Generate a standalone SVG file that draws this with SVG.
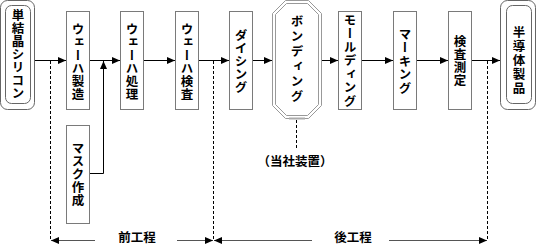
<svg xmlns="http://www.w3.org/2000/svg" width="537" height="245" viewBox="0 0 537 245">
<defs>
<style>
.box{fill:#fff;stroke:#7a7a7a;stroke-width:1}
.rr{fill:#fff;stroke:#666;stroke-width:1}
.oct{fill:none;stroke:#999;stroke-width:1}
.vt{font-family:"Noto Sans CJK JP","Noto Sans",sans-serif;font-size:12.5px;font-weight:bold;fill:#000;writing-mode:vertical-rl;text-anchor:middle}
.ht{font-family:"Noto Sans CJK JP","Noto Sans",sans-serif;font-size:12.5px;font-weight:bold;fill:#000;text-anchor:middle;dominant-baseline:central}
.ln{stroke:#000;stroke-width:1;fill:none}
.gl{stroke:#555;stroke-width:1.2;fill:none}
.dash{stroke:#000;stroke-width:1;fill:none;stroke-dasharray:3 2}
</style>
<marker id="ah" viewBox="0 0 8 8" refX="8" refY="4" markerWidth="8" markerHeight="8" markerUnits="userSpaceOnUse" orient="auto">
<path d="M0,0.5 L8,4 L0,7.5 Z" fill="#000"/>
</marker>
</defs>

<g id="n-silicon">
<rect class="rr" x="0.5" y="0.5" width="34" height="109" rx="7"/>
<rect class="rr" x="5.5" y="5.5" width="25" height="98" rx="6"/>
<text class="vt" x="18" y="15 28 41 54 67 80 93">単結晶シリコン</text>
</g>
<g id="n-wafer-make">
<rect class="box" x="66.5" y="11.5" width="23" height="98"/>
<text class="vt" x="78" y="29 42 55 68 81 94">ウェーハ製造</text>
</g>
<g id="n-wafer-proc">
<rect class="box" x="120.5" y="11.5" width="23" height="98"/>
<text class="vt" x="132" y="29 42 55 68 81 94">ウェーハ処理</text>
</g>
<g id="n-wafer-insp">
<rect class="box" x="175.5" y="11.5" width="23" height="98"/>
<text class="vt" x="187" y="29 42 55 68 81 94">ウェーハ検査</text>
</g>
<g id="n-dicing">
<rect class="box" x="229.5" y="11.5" width="23" height="98"/>
<text class="vt" x="241" y="35 48 61 74 87">ダイシング</text>
</g>
<g id="n-bonding">
<polygon class="oct" points="285.5,0.5 308.5,0.5 321.5,13.5 321.5,105.5 308.5,118.5 285.5,118.5 272.5,105.5 272.5,13.5"/>
<polygon class="oct" points="286.5,3.5 307.5,3.5 318.5,14.5 318.5,104.5 307.5,115.5 286.5,115.5 275.5,104.5 275.5,14.5"/>
<line x1="289" y1="118.5" x2="305" y2="118.5" stroke="#aaa" stroke-width="2"/>
<text class="vt" x="297" y="21 36 51 66 81 96">ボンディング</text>
</g>
<g id="n-molding">
<rect class="box" x="338.5" y="11.5" width="23" height="98"/>
<text class="vt" x="350" y="20 33.5 47 60.5 74 87.5 101">モールディング</text>
</g>
<g id="n-marking">
<rect class="box" x="393.5" y="11.5" width="23" height="98"/>
<text class="vt" x="405" y="34 47.5 61 74.5 88">マーキング</text>
</g>
<g id="n-test">
<rect class="box" x="448.5" y="11.5" width="23" height="98"/>
<text class="vt" x="460" y="41 54 67 80">検査測定</text>
</g>
<g id="n-product">
<rect class="rr" x="500.5" y="0.5" width="35" height="109" rx="7"/>
<rect class="rr" x="506.5" y="5.5" width="25" height="98" rx="6"/>
<text class="vt" x="519" y="32 46 60 74 88">半導体製品</text>
</g>
<g id="n-mask">
<rect class="box" x="66.5" y="125.5" width="23" height="98"/>
<text class="vt" x="78" y="148.5 161.5 174.5 187.5 200.5">マスク作成</text>
</g>
<g id="n-note">
<text class="ht" x="295" y="160" font-size="12">（当社装置）</text>
</g>

<g id="connectors">
<line class="ln" x1="35" y1="60.5" x2="66" y2="60.5" marker-end="url(#ah)"/>
<line class="ln" x1="90" y1="60.5" x2="120" y2="60.5" marker-end="url(#ah)"/>
<line class="ln" x1="144" y1="60.5" x2="175" y2="60.5" marker-end="url(#ah)"/>
<line class="ln" x1="199" y1="60.5" x2="229" y2="60.5" marker-end="url(#ah)"/>
<line class="ln" x1="253" y1="60.5" x2="272" y2="60.5" marker-end="url(#ah)"/>
<line class="ln" x1="322" y1="60.5" x2="338" y2="60.5" marker-end="url(#ah)"/>
<line class="ln" x1="362" y1="60.5" x2="393" y2="60.5" marker-end="url(#ah)"/>
<line class="ln" x1="417" y1="60.5" x2="448" y2="60.5" marker-end="url(#ah)"/>
<line class="ln" x1="472" y1="60.5" x2="500" y2="60.5" marker-end="url(#ah)"/>
<polyline class="ln" points="90,173.5 103.5,173.5 103.5,61" marker-end="url(#ah)"/>
<line class="dash" x1="50.5" y1="61" x2="50.5" y2="240"/>
<line class="dash" x1="213.5" y1="61" x2="213.5" y2="240"/>
<line class="dash" x1="487.5" y1="61" x2="487.5" y2="240"/>
<line class="dash" x1="296.5" y1="120" x2="296.5" y2="150"/>
<line class="gl" x1="95" y1="240.5" x2="51" y2="240.5" marker-end="url(#ah)"/>
<line class="gl" x1="177" y1="240.5" x2="213" y2="240.5" marker-end="url(#ah)"/>
<line class="gl" x1="312" y1="240.5" x2="214" y2="240.5" marker-end="url(#ah)"/>
<line class="gl" x1="389" y1="240.5" x2="487" y2="240.5" marker-end="url(#ah)"/>
<text class="ht" x="137" y="236.5">前工程</text>
<text class="ht" x="353" y="236.5">後工程</text>
</g>
</svg>
